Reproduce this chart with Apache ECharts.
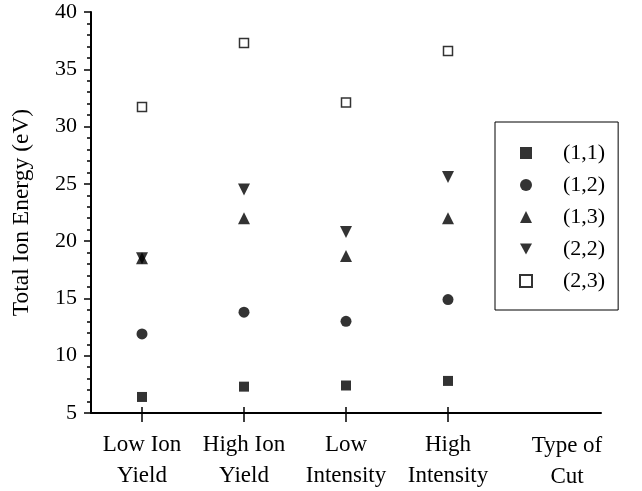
<!DOCTYPE html>
<html>
<head>
<meta charset="utf-8">
<script src="https://cdn.jsdelivr.net/npm/echarts@6/dist/echarts.min.js"></script>
<style>html,body{margin:0;padding:0;background:#fff}#c{width:642px;height:491px}</style>
</head>
<body>
<div id="c"></div>
<script>
var categories = ['Low Ion\nYield', 'High Ion\nYield', 'Low\nIntensity', 'High\nIntensity', ''];
var seriesNames = ['(1,1)', '(1,2)', '(1,3)', '(2,2)', '(2,3)'];
var s11 = [6.4, 7.3, 7.4, 7.8];
var s12 = [11.9, 13.8, 13.0, 14.9];
var s13 = [18.5, 22.0, 18.7, 22.0];
var s22 = [18.5, 24.5, 20.8, 25.6];
var s23 = [31.7, 37.3, 32.1, 36.6];
var yTicks = {min: 5, max: 40, interval: 5};
var yName = 'Total Ion Energy (eV)';
var xName = 'Type of\nCut';

var FONT = "'Liberation Serif', 'Times New Roman', serif";
var chart = echarts.init(document.getElementById('c'));
var blk = '#000';
var downTri = 'path://M0,0 L10,0 L5,9 Z';
function mk(name, data, symbol, size, style) {
  return {name: name, type: 'scatter', data: data, symbol: symbol, symbolSize: size, itemStyle: style, z: 3};
}
chart.setOption({
  animation: false,
  backgroundColor: '#fff',
  textStyle: {fontFamily: FONT, color: blk},
  grid: {left: 91, right: 41, top: 12, bottom: 77},
  legend: {
    orient: 'vertical', left: 495, top: 122,
    borderColor: blk, borderWidth: 1, backgroundColor: '#fff',
    padding: [20, 13, 18, 24],
    itemWidth: 12, itemHeight: 12, itemGap: 10,
    textStyle: {fontFamily: FONT, fontSize: 22, color: blk, lineHeight: 22, padding: [0, 0, 0, 26]},
    data: seriesNames
  },
  xAxis: [{
    type: 'category', data: categories, boundaryGap: true,
    axisLine: {lineStyle: {color: blk, width: 2}},
    axisTick: {show: true, alignWithLabel: true, length: 9, lineStyle: {color: blk, width: 1.5},
      interval: function (i, v) { return v !== ''; }},
    axisLabel: {fontFamily: FONT, fontSize: 23, color: blk, lineHeight: 31, margin: 16, interval: 0},
    splitLine: {show: false}
  }, {
    type: 'category', data: categories, boundaryGap: true, position: 'bottom',
    axisLine: {show: false},
    axisTick: {show: true, inside: true, alignWithLabel: true, length: 6, lineStyle: {color: blk, width: 1.5},
      interval: function (i, v) { return v !== ''; }},
    axisLabel: {show: false}, splitLine: {show: false}
  }],
  yAxis: {
    type: 'value', min: yTicks.min, max: yTicks.max, interval: yTicks.interval,
    name: yName, nameLocation: 'middle', nameGap: 57, nameRotate: 90,
    nameTextStyle: {fontFamily: FONT, fontSize: 23.5, color: blk},
    axisLine: {show: true, lineStyle: {color: blk, width: 2}},
    axisTick: {show: true, length: 7, lineStyle: {color: blk, width: 1.5}},
    minorTick: {show: true, splitNumber: 5, length: 4, lineStyle: {color: blk, width: 1.5}},
    axisLabel: {fontFamily: FONT, fontSize: 22, color: blk, margin: 14},
    splitLine: {show: false}
  },
  graphic: [{
    type: 'text', x: 567, y: 430,
    style: {text: xName, font: '23px ' + FONT, fill: blk, textAlign: 'center', textVerticalAlign: 'top', lineHeight: 31}
  }],
  series: [
    mk(seriesNames[0], s11, 'rect', 10, {color: blk}),
    mk(seriesNames[1], s12, 'circle', 11, {color: blk}),
    mk(seriesNames[2], s13, 'triangle', 12, {color: blk}),
    mk(seriesNames[3], s22, downTri, 12, {color: blk}),
    mk(seriesNames[4], s23, 'rect', 9, {color: '#fff', borderColor: blk, borderWidth: 1.5})
  ]
});
</script>
</body>
</html>
